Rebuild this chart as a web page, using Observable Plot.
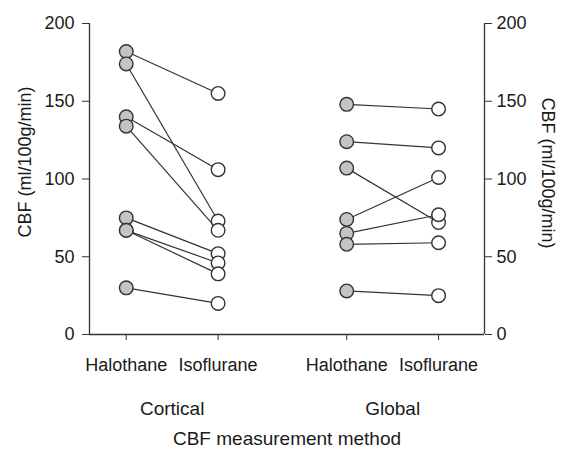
<!DOCTYPE html>
<html><head><meta charset="utf-8">
<script src="https://cdn.jsdelivr.net/npm/d3@7"></script>
<script src="https://cdn.jsdelivr.net/npm/@observablehq/plot@0.6"></script>
<style>
body{margin:0;background:#fff}
#chart svg{display:block}
</style></head><body><div id="chart"></div>
<script>
const xPositions = [1, 2, 3.4, 4.4];
const xTickLabels = ["Halothane", "Isoflurane", "Halothane", "Isoflurane"];
const groupLabels = ["Cortical", "Global"];
const groupCenters = [1.5, 3.9];
const yTicks = [0, 50, 100, 150, 200];
const yLabel = "CBF (ml/100g/min)";
const xLabel = "CBF measurement method";
const corticalHalothane = [182, 174, 140, 134, 75, 67, 67, 30];
const corticalIsoflurane = [155, 73, 106, 67, 52, 46, 39, 20];
const globalHalothane = [148, 124, 107, 74, 65, 58, 28];
const globalIsoflurane = [145, 120, 72, 101, 77, 59, 25];

const font = "'Liberation Sans', Arial, Helvetica, sans-serif";
const pairs = [
  ...corticalHalothane.map((h, i) => ({x1: xPositions[0], y1: h, x2: xPositions[1], y2: corticalIsoflurane[i]})),
  ...globalHalothane.map((h, i) => ({x1: xPositions[2], y1: h, x2: xPositions[3], y2: globalIsoflurane[i]}))
];
const halo = pairs.map(p => ({x: p.x1, y: p.y1}));
const iso = pairs.map(p => ({x: p.x2, y: p.y2}));
const xDomain = [0.6, 4.9];
const ink = "#1a1a1a";

const plot = Plot.plot({
  width: 562, height: 450,
  marginLeft: 89, marginRight: 78, marginTop: 23, marginBottom: 116,
  style: {fontFamily: font, fontSize: "18px", color: ink, background: "#fff"},
  x: {domain: xDomain},
  y: {domain: [0, 200]},
  marks: [
    Plot.ruleX(xDomain, {y1: 0, y2: 200, stroke: "#333", strokeWidth: 1.3}),
    Plot.ruleY([0], {stroke: "#333", strokeWidth: 1.3}),
    Plot.axisY({anchor: "left", ticks: yTicks, tickSize: 7, tickPadding: 8, label: null, stroke: "#333", fill: ink}),
    Plot.axisY({anchor: "right", ticks: yTicks, tickSize: 7, tickPadding: 5, label: null, stroke: "#333", fill: ink}),
    Plot.axisX({ticks: xPositions, tickFormat: d => xTickLabels[xPositions.indexOf(d)], tickSize: 6, tickPadding: 18, label: null, stroke: "#333", fill: ink}),
    Plot.text([yLabel], {frameAnchor: "left", textAnchor: "middle", lineAnchor: "middle", rotate: -90, dx: -64, dy: -17, fill: ink, fontSize: 18}),
    Plot.text([yLabel], {frameAnchor: "right", textAnchor: "middle", lineAnchor: "middle", rotate: 90, dx: 63, dy: -6, fill: ink, fontSize: 18}),
    Plot.text(groupLabels, {x: groupCenters, frameAnchor: "bottom", lineAnchor: "middle", dy: 74, fill: ink, fontSize: 19}),
    Plot.text([xLabel], {frameAnchor: "bottom", lineAnchor: "middle", dy: 104, fill: ink, fontSize: 19}),
    Plot.link(pairs, {x1: "x1", y1: "y1", x2: "x2", y2: "y2", stroke: "#333", strokeWidth: 1.2}),
    Plot.dot(halo, {x: "x", y: "y", r: 6.8, fill: "#c4c4c4", stroke: "#333", strokeWidth: 1.4}),
    Plot.dot(iso, {x: "x", y: "y", r: 6.8, fill: "#fff", stroke: "#333", strokeWidth: 1.4})
  ]
});
document.getElementById("chart").appendChild(plot);
</script></body></html>
